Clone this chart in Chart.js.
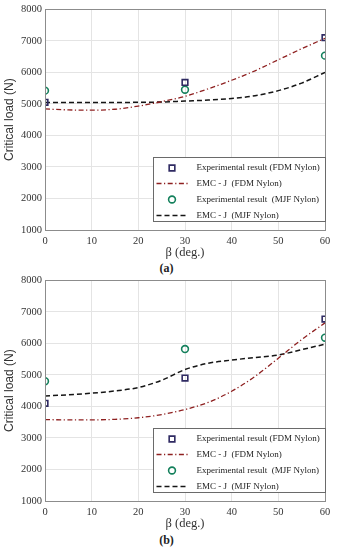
<!DOCTYPE html>
<html>
<head>
<meta charset="utf-8">
<script src="https://cdn.jsdelivr.net/npm/chart.js@4/dist/chart.umd.min.js"></script>
<style>
  html, body { margin: 0; padding: 0; background: #fff; }
  body { width: 337px; height: 550px; position: relative; overflow: hidden; }
  .wrap { position: absolute; left: 0; width: 337px; height: 260px; }
  .cap { position: absolute; width: 337px; left: -2px; text-align: center;
         font-family: "Liberation Serif", "DejaVu Serif", serif; font-size: 12px; font-weight: bold; color: #222; }
</style>
</head>
<body>
<div class="wrap" style="top:0px"><canvas id="ca" width="337" height="260"></canvas></div>
<div class="cap" style="top:261px">(a)</div>
<div class="wrap" style="top:271px"><canvas id="cb" width="337" height="260"></canvas></div>
<div class="cap" style="top:533px">(b)</div>
<script>
// ---- data ----
const expAngles = [0, 30, 60];
const curveAngles = [0, 5, 10, 15, 20, 25, 30, 35, 40, 45, 50, 55, 60];
const xTicks = [0, 10, 20, 30, 40, 50, 60];
const yTicks = [1000, 2000, 3000, 4000, 5000, 6000, 7000, 8000];

// (a)
const aFdmExp = [5050, 5680, 7100];
const aMjfExp = [5420, 5450, 6530];
const aFdmEmc = [4840, 4810, 4800, 4830, 4930, 5070, 5240, 5480, 5750, 6050, 6400, 6750, 7080];
const aMjfEmc = [5040, 5040, 5040, 5045, 5050, 5060, 5090, 5120, 5170, 5260, 5420, 5660, 6000];

// (b)
const bFdmExp = [4100, 4900, 6770];
const bMjfExp = [4800, 5820, 6180];
const bFdmEmc = [3580, 3575, 3575, 3590, 3640, 3740, 3900, 4130, 4480, 4950, 5530, 6120, 6650];
const bMjfEmc = [4330, 4370, 4420, 4490, 4600, 4830, 5170, 5370, 5470, 5550, 5630, 5800, 5975];

const seriesLabels = [
  'Experimental result (FDM Nylon)',
  'EMC - J  (FDM Nylon)',
  'Experimental result  (MJF Nylon)',
  'EMC - J  (MJF Nylon)'
];

const SERIF = '"Liberation Serif", "DejaVu Serif", serif';
const SQ_COLOR = '#2f2a62';
const CI_COLOR = '#14805c';
const RED = '#8e2020';
const BLK = '#151515';

function pts(xs, ys) { return xs.map((x, i) => ({ x: x, y: ys[i] })); }

const frame = {
  id: 'frame',
  afterDraw(chart) {
    const { ctx, chartArea: a } = chart;
    ctx.save();
    ctx.strokeStyle = '#8c8c8c';
    ctx.lineWidth = 1;
    ctx.strokeRect(Math.round(a.left) + 0.5, Math.round(a.top) + 0.5,
                   Math.round(a.right - a.left), Math.round(a.bottom - a.top));
    // legend box
    const bw = 172, bh = 64;
    const bx = Math.round(a.right) - bw + 0.5, by = Math.round(a.bottom) - 9 - bh + 0.5;
    ctx.fillStyle = '#fff';
    ctx.fillRect(bx, by, bw, bh);
    ctx.strokeStyle = '#6a6a6a';
    ctx.strokeRect(bx, by, bw, bh);
    const rows = [10.5, 26, 42, 58];
    chart.data.datasets.forEach((ds, i) => {
      const y = by + rows[i];
      const sx = bx + 18.5;
      ctx.setLineDash([]);
      if (ds.showLine === false) {
        ctx.strokeStyle = ds.pointBorderColor;
        ctx.lineWidth = ds.pointBorderWidth;
        ctx.beginPath();
        if (ds.pointStyle === 'rect') {
          const s = ds.pointRadius * Math.SQRT1_2;
          ctx.rect(sx - s, y - s, 2 * s, 2 * s);
        } else {
          ctx.arc(sx, y, ds.pointRadius, 0, Math.PI * 2);
        }
        ctx.stroke();
      } else {
        ctx.strokeStyle = ds.borderColor;
        ctx.lineWidth = ds.borderWidth;
        ctx.setLineDash(ds.borderDash);
        ctx.beginPath();
        ctx.moveTo(bx + 3, y);
        ctx.lineTo(bx + 35, y);
        ctx.stroke();
        ctx.setLineDash([]);
      }
      ctx.fillStyle = '#222';
      ctx.font = '9px ' + SERIF;
      ctx.textBaseline = 'middle';
      ctx.textAlign = 'left';
      ctx.fillText(ds.label, bx + 43, y);
    });
    ctx.restore();
  }
};

function makeChart(id, fdmExp, fdmEmc, mjfExp, mjfEmc) {
  return new Chart(document.getElementById(id), {
    type: 'scatter',
    data: {
      datasets: [
        { label: seriesLabels[0], data: pts(expAngles, fdmExp), showLine: false,
          pointStyle: 'rect', pointRadius: 4, pointBorderWidth: 1.6,
          pointBorderColor: SQ_COLOR, pointBackgroundColor: 'rgba(0,0,0,0)', order: 0 },
        { label: seriesLabels[1], data: pts(curveAngles, fdmEmc), showLine: true,
          borderColor: RED, borderWidth: 1.3, borderDash: [5, 2.5, 1.2, 2.5],
          pointRadius: 0, cubicInterpolationMode: 'monotone', order: 2 },
        { label: seriesLabels[2], data: pts(expAngles, mjfExp), showLine: false,
          pointStyle: 'circle', pointRadius: 3.4, pointBorderWidth: 1.6,
          pointBorderColor: CI_COLOR, pointBackgroundColor: 'rgba(0,0,0,0)', order: 1 },
        { label: seriesLabels[3], data: pts(curveAngles, mjfEmc), showLine: true,
          borderColor: BLK, borderWidth: 1.5, borderDash: [5, 3],
          pointRadius: 0, cubicInterpolationMode: 'monotone', order: 3 }
      ]
    },
    options: {
      responsive: false,
      animation: false,
      events: [],
      layout: { padding: { left: 0, top: 9, right: 12, bottom: 0 } },
      plugins: { legend: { display: false }, tooltip: { enabled: false } },
      scales: {
        x: {
          type: 'linear', min: 0, max: 60,
          afterBuildTicks(s) { s.ticks = xTicks.map(v => ({ value: v })); },
          afterFit(s) { s.height = 30; },
          grid: { color: '#e4e4e4', drawTicks: false },
          border: { display: false },
          ticks: { color: '#333', padding: 5, font: { family: SERIF, size: 10.5 },
                   callback: v => String(v) },
          title: { display: true, text: 'β (deg.)', color: '#333',
                   padding: { top: 0, bottom: 0 },
                   font: { family: SERIF, size: 12.5 } }
        },
        y: {
          type: 'linear', min: 1000, max: 8000,
          afterBuildTicks(s) { s.ticks = yTicks.map(v => ({ value: v })); },
          afterFit(s) { s.width = 45; },
          grid: { color: '#e4e4e4', drawTicks: false },
          border: { display: false },
          ticks: { color: '#333', padding: 3, font: { family: SERIF, size: 10.5 },
                   callback: v => String(v) },
          title: { display: true, text: 'Critical load (N)', color: '#333',
                   padding: { top: 2, bottom: 0 },
                   font: { family: '"Liberation Sans", Arial, sans-serif', size: 12 } }
        }
      }
    },
    plugins: [frame]
  });
}

makeChart('ca', aFdmExp, aFdmEmc, aMjfExp, aMjfEmc);
makeChart('cb', bFdmExp, bFdmEmc, bMjfExp, bMjfEmc);
</script>
</body>
</html>
